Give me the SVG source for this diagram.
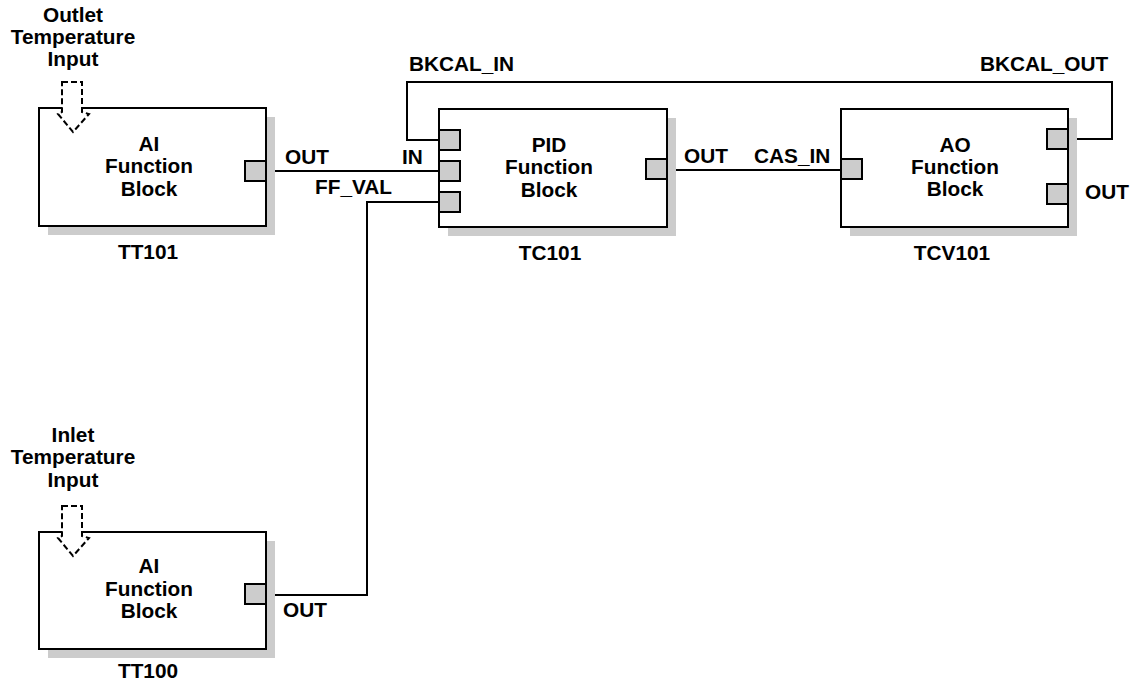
<svg xmlns="http://www.w3.org/2000/svg" width="1140" height="686" viewBox="0 0 1140 686">
<style>
text{font-family:"Liberation Sans",Arial,Helvetica,sans-serif;font-weight:bold;font-size:20.8px;fill:#000}
.c{text-anchor:middle}
.box{fill:#fff;stroke:#000;stroke-width:2}
.sh{fill:#cccccc;stroke:none}
.port{fill:#cccccc;stroke:#000;stroke-width:2}
.wire{fill:none;stroke:#000;stroke-width:2}
.dash{fill:#fff;stroke:#000;stroke-width:2;stroke-dasharray:6 3}
</style>
<rect width="1140" height="686" fill="#fff"/>
<g id="connectors">
<path class="wire" d="M266,171 H439"/>
<path class="wire" d="M1068,139 H1112 V82 H407 V140 H439"/>
<path class="wire" d="M667,170 H841"/>
<path class="wire" d="M266,595 H367 V202 H439"/>
</g>
<g id="TT101">
<rect class="sh" x="48" y="117" width="227" height="118"/>
<rect class="box" x="39" y="108" width="227" height="118"/>
<rect class="port" x="245" y="161" width="21" height="20"/>
<path class="dash" d="M62,82 H82 V112 L89,114 L73,132 L58,114 L62,112 Z"/>
<text class="c" x="73" y="22">Outlet</text>
<text class="c" x="73" y="44">Temperature</text>
<text class="c" x="73" y="66">Input</text>
<text class="c" x="149" y="151">AI</text>
<text class="c" x="149" y="173">Function</text>
<text class="c" x="149" y="196">Block</text>
<text class="c" x="148" y="259">TT101</text>
<text x="285" y="164">OUT</text>
</g>
<g id="TC101">
<rect class="sh" x="448" y="118" width="228" height="118"/>
<rect class="box" x="439" y="109" width="228" height="118"/>
<rect class="port" x="439" y="130" width="21" height="20"/>
<rect class="port" x="439" y="161" width="21" height="20"/>
<rect class="port" x="439" y="192" width="21" height="20"/>
<rect class="port" x="646" y="159" width="21" height="20"/>
<text class="c" x="549" y="152">PID</text>
<text class="c" x="549" y="174">Function</text>
<text class="c" x="549" y="197">Block</text>
<text class="c" x="550" y="260">TC101</text>
<text x="402" y="164">IN</text>
<text x="315" y="194">FF_VAL</text>
<text x="409" y="71">BKCAL_IN</text>
<text x="684" y="163">OUT</text>
</g>
<g id="TCV101">
<rect class="sh" x="850" y="118" width="227" height="118"/>
<rect class="box" x="841" y="109" width="227" height="118"/>
<rect class="port" x="841" y="159" width="21" height="20"/>
<rect class="port" x="1047" y="129" width="21" height="20"/>
<rect class="port" x="1047" y="184" width="21" height="20"/>
<text class="c" x="955" y="152">AO</text>
<text class="c" x="955" y="174">Function</text>
<text class="c" x="955" y="196">Block</text>
<text class="c" x="952" y="260">TCV101</text>
<text x="754" y="163">CAS_IN</text>
<text x="980" y="71">BKCAL_OUT</text>
<text x="1085" y="199">OUT</text>
</g>
<g id="TT100">
<rect class="sh" x="48" y="541" width="227" height="117"/>
<rect class="box" x="39" y="532" width="227" height="117"/>
<rect class="port" x="245" y="584" width="21" height="20"/>
<path class="dash" d="M62,506 H82 V536 L89,538 L73,556 L58,538 L62,536 Z"/>
<text class="c" x="73" y="442">Inlet</text>
<text class="c" x="73" y="464">Temperature</text>
<text class="c" x="73" y="487">Input</text>
<text class="c" x="149" y="573">AI</text>
<text class="c" x="149" y="596">Function</text>
<text class="c" x="149" y="618">Block</text>
<text class="c" x="148" y="678">TT100</text>
<text x="283" y="617">OUT</text>
</g>
</svg>
